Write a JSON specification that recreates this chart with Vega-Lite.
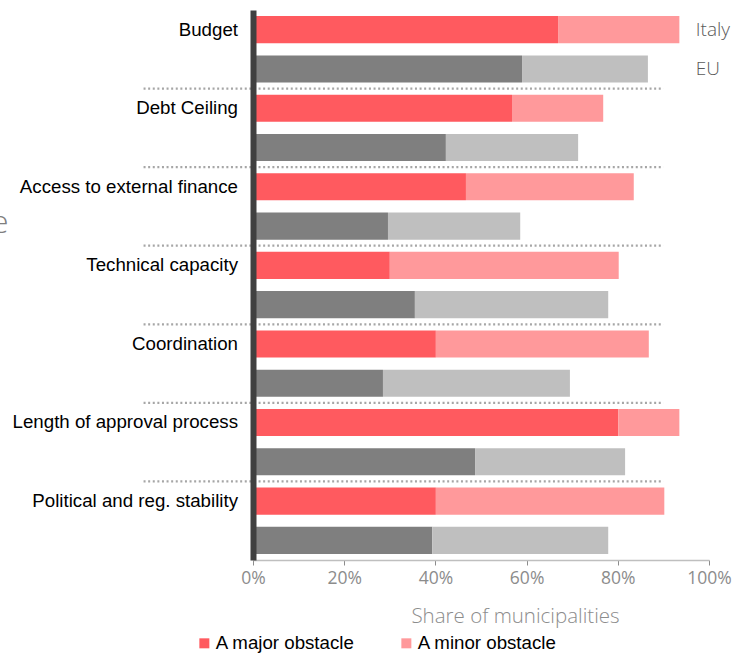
{
  "$schema": "https://vega.github.io/schema/vega-lite/v6.json",
  "width": 456,
  "height": 550,
  "autosize": {"type": "none"},
  "padding": {"left": 253, "top": 10, "right": 37, "bottom": 93},
  "background": "white",
  "config": {"view": {"stroke": null}},
  "datasets": {
    "bars": [
      {"obstacle": "Budget", "region": "Italy", "severity": "major", "series": "Italy major", "value": 0.669},
      {"obstacle": "Budget", "region": "Italy", "severity": "minor", "series": "Italy minor", "value": 0.266},
      {"obstacle": "Budget", "region": "EU", "severity": "major", "series": "EU major", "value": 0.590},
      {"obstacle": "Budget", "region": "EU", "severity": "minor", "series": "EU minor", "value": 0.276},
      {"obstacle": "Debt Ceiling", "region": "Italy", "severity": "major", "series": "Italy major", "value": 0.568},
      {"obstacle": "Debt Ceiling", "region": "Italy", "severity": "minor", "series": "Italy minor", "value": 0.200},
      {"obstacle": "Debt Ceiling", "region": "EU", "severity": "major", "series": "EU major", "value": 0.423},
      {"obstacle": "Debt Ceiling", "region": "EU", "severity": "minor", "series": "EU minor", "value": 0.290},
      {"obstacle": "Access to external finance", "region": "Italy", "severity": "major", "series": "Italy major", "value": 0.467},
      {"obstacle": "Access to external finance", "region": "Italy", "severity": "minor", "series": "Italy minor", "value": 0.368},
      {"obstacle": "Access to external finance", "region": "EU", "severity": "major", "series": "EU major", "value": 0.296},
      {"obstacle": "Access to external finance", "region": "EU", "severity": "minor", "series": "EU minor", "value": 0.290},
      {"obstacle": "Technical capacity", "region": "Italy", "severity": "major", "series": "Italy major", "value": 0.300},
      {"obstacle": "Technical capacity", "region": "Italy", "severity": "minor", "series": "Italy minor", "value": 0.502},
      {"obstacle": "Technical capacity", "region": "EU", "severity": "major", "series": "EU major", "value": 0.355},
      {"obstacle": "Technical capacity", "region": "EU", "severity": "minor", "series": "EU minor", "value": 0.424},
      {"obstacle": "Coordination", "region": "Italy", "severity": "major", "series": "Italy major", "value": 0.401},
      {"obstacle": "Coordination", "region": "Italy", "severity": "minor", "series": "Italy minor", "value": 0.467},
      {"obstacle": "Coordination", "region": "EU", "severity": "major", "series": "EU major", "value": 0.285},
      {"obstacle": "Coordination", "region": "EU", "severity": "minor", "series": "EU minor", "value": 0.410},
      {"obstacle": "Length of approval process", "region": "Italy", "severity": "major", "series": "Italy major", "value": 0.801},
      {"obstacle": "Length of approval process", "region": "Italy", "severity": "minor", "series": "Italy minor", "value": 0.134},
      {"obstacle": "Length of approval process", "region": "EU", "severity": "major", "series": "EU major", "value": 0.487},
      {"obstacle": "Length of approval process", "region": "EU", "severity": "minor", "series": "EU minor", "value": 0.329},
      {"obstacle": "Political and reg. stability", "region": "Italy", "severity": "major", "series": "Italy major", "value": 0.401},
      {"obstacle": "Political and reg. stability", "region": "Italy", "severity": "minor", "series": "Italy minor", "value": 0.501},
      {"obstacle": "Political and reg. stability", "region": "EU", "severity": "major", "series": "EU major", "value": 0.393},
      {"obstacle": "Political and reg. stability", "region": "EU", "severity": "minor", "series": "EU minor", "value": 0.386}
    ],
    "separators": [
      {"obstacle": "Debt Ceiling"},
      {"obstacle": "Access to external finance"},
      {"obstacle": "Technical capacity"},
      {"obstacle": "Coordination"},
      {"obstacle": "Length of approval process"},
      {"obstacle": "Political and reg. stability"}
    ],
    "regions": [
      {"obstacle": "Budget", "region": "Italy"},
      {"obstacle": "Budget", "region": "EU"}
    ]
  },
  "layer": [
    {
      "data": {"name": "bars"},
      "mark": {"type": "bar"},
      "encoding": {
        "y": {
          "field": "obstacle",
          "type": "nominal",
          "sort": null,
          "scale": {
            "domain": ["Budget", "Debt Ceiling", "Access to external finance", "Technical capacity", "Coordination", "Length of approval process", "Political and reg. stability"],
            "paddingInner": 0,
            "paddingOuter": 0
          },
          "axis": {
            "title": "Obstacle",
            "titleAngle": 0,
            "titleAlign": "right",
            "titleBaseline": "alphabetic",
            "titleX": -245,
            "titleY": 222,
            "titleFont": "Open Sans",
            "titleFontWeight": 300,
            "titleFontSize": 32,
            "titleColor": "#7F7F7F",
            "domainColor": "#404040",
            "domainWidth": 6,
            "ticks": false,
            "tickSize": 0,
            "labelPadding": 15.5,
            "labelOffset": -19.65,
            "labelFont": "Liberation Sans",
            "labelFontSize": 18.7,
            "labelColor": "#000000",
            "labelLimit": 300,
            "zindex": 1
          }
        },
        "yOffset": {
          "field": "region",
          "type": "nominal",
          "sort": ["Italy", "EU"],
          "scale": {"domain": ["Italy", "EU"], "paddingInner": 0.31, "paddingOuter": 0.155}
        },
        "x": {
          "field": "value",
          "type": "quantitative",
          "stack": "zero",
          "scale": {"domain": [0, 1], "nice": false},
          "axis": {
            "values": [0, 0.2, 0.4, 0.6, 0.8, 1],
            "format": ".0%",
            "grid": false,
            "title": "Share of municipalities",
            "titleX": 262,
            "titleY": 62,
            "titleAlign": "center",
            "titleBaseline": "alphabetic",
            "titleFont": "Open Sans",
            "titleFontWeight": 300,
            "titleFontSize": 20.5,
            "titleColor": "#8C8C8C",
            "domainColor": "#BFBFBF",
            "domainWidth": 1.5,
            "tickColor": "#8C8C8C",
            "tickSize": 5,
            "labelFont": "Open Sans",
            "labelFontSize": 17.5,
            "labelColor": "#8C8C8C",
            "labelPadding": 4,
            "labelFlush": false
          }
        },
        "order": {"field": "severity", "sort": "ascending"},
        "color": {
          "field": "series",
          "type": "nominal",
          "scale": {
            "domain": ["Italy major", "Italy minor", "EU major", "EU minor"],
            "range": ["#FF5A5F", "#FF999B", "#7F7F7F", "#BFBFBF"]
          },
          "legend": {
            "values": ["Italy major", "Italy minor"],
            "labelExpr": "datum.label == 'Italy major' ? 'A major obstacle' : 'A minor obstacle'",
            "title": null,
            "orient": "none",
            "direction": "horizontal",
            "legendX": -58,
            "legendY": 623.5,
            "padding": 0,
            "symbolType": "square",
            "symbolSize": 100,
            "symbolStrokeWidth": 0,
            "symbolOpacity": 1,
            "labelFont": "Liberation Sans",
            "labelFontSize": 18.7,
            "labelColor": "#000000",
            "labelOffset": 2,
            "columnPadding": 42,
            "labelLimit": 300
          }
        }
      }
    },
    {
      "data": {"name": "separators"},
      "mark": {"type": "rule", "color": "#A6A6A6", "strokeWidth": 2.2, "strokeDash": [2, 2.6]},
      "encoding": {
        "y": {"field": "obstacle", "type": "nominal", "sort": null, "bandPosition": 0},
        "x": {"datum": -0.24},
        "x2": {"datum": 0.9}
      }
    },
    {
      "data": {"name": "regions"},
      "mark": {"type": "text", "align": "left", "baseline": "middle", "font": "Open Sans", "fontWeight": 300, "fontSize": 19, "color": "#595959"},
      "encoding": {
        "y": {"field": "obstacle", "type": "nominal", "sort": null},
        "yOffset": {"field": "region", "type": "nominal", "sort": ["Italy", "EU"]},
        "x": {"datum": 0.971},
        "text": {"field": "region"}
      }
    }
  ]
}
